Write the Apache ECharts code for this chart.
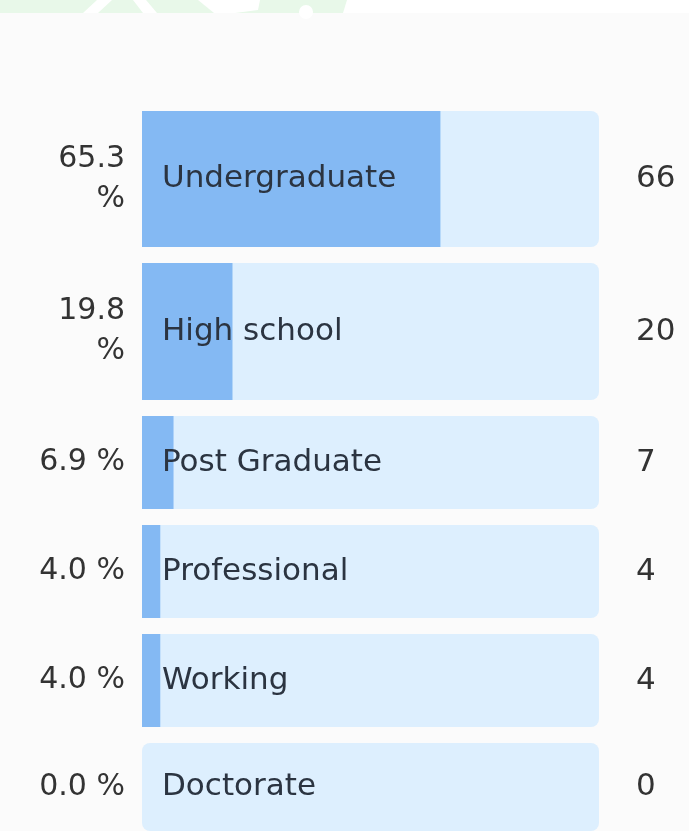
<!DOCTYPE html>
<html>
<head>
<meta charset="utf-8">
<script src="https://cdn.jsdelivr.net/npm/echarts@6/dist/echarts.min.js"></script>
<style>
html,body{margin:0;padding:0;background:#fbfbfb;}
#c{width:689px;height:831px;}
</style>
</head>
<body>
<div id="c"></div>
<script>
const categories = ['Undergraduate', 'High school', 'Post Graduate', 'Professional', 'Working', 'Doctorate'];
const percents = [65.3, 19.8, 6.9, 4.0, 4.0, 0.0];
const counts = [66, 20, 7, 4, 4, 0];

// layout (row positions in px)
const rowTops = [111, 263, 416, 525, 634, 743];
const rowHeights = [136, 137, 93, 93, 93, 93];

const FONT = "'DejaVu Sans', 'Open Sans', sans-serif";
const grids = [], xAxes = [], yAxes = [], series = [];
// percent label wraps onto two lines when it does not fit the left column
const pctText = (p) => p.toFixed(1) + (p >= 10 ? '\n%' : ' %');
categories.forEach((cat, i) => {
  grids.push({left: 142, right: 90, top: rowTops[i], height: rowHeights[i], containLabel: false});
  xAxes.push({gridIndex: i, type: 'value', min: 0, max: 100, show: false});
  const base = {gridIndex: i, type: 'category', data: [cat], axisLine: {show: false}, axisTick: {show: false}, splitLine: {show: false}};
  yAxes.push(Object.assign({}, base, {
    position: 'left', z: 10,
    axisLabel: {formatter: () => pctText(percents[i]), fontFamily: FONT, fontSize: 30, color: '#333',
      margin: 17, align: 'right', lineHeight: 40, padding: [4, 0, 0, 0]}
  }));
  yAxes.push(Object.assign({}, base, {
    position: 'left', z: 10,
    axisLabel: {inside: true, formatter: (v) => v, fontFamily: FONT, fontSize: 31, color: '#2b3441', margin: 20, padding: [4, 0, 0, 0]}
  }));
  yAxes.push(Object.assign({}, base, {
    position: 'right', z: 10,
    axisLabel: {formatter: () => String(counts[i]), fontFamily: FONT, fontSize: 31, color: '#333', margin: 37, align: 'left', padding: [4, 0, 0, 0]}
  }));
  series.push({
    type: 'bar', xAxisIndex: i, yAxisIndex: i * 3, data: [percents[i]], barWidth: '100%',
    showBackground: true, backgroundStyle: {color: '#ddeffe', borderRadius: 8},
    itemStyle: {color: '#84b9f3'}, silent: true, animation: false
  });
});

const chart = echarts.init(document.getElementById('c'));
chart.setOption({
  animation: false,
  backgroundColor: '#fbfbfb',
  graphic: [
    {type: 'rect', shape: {x: 0, y: 0, width: 348, height: 13}, style: {fill: '#e8f8e9'}},
    {type: 'polygon', shape: {points: [[83,13],[98,13],[112,0],[97,0]]}, style: {fill: '#ffffff'}},
    {type: 'polygon', shape: {points: [[143,13],[157,13],[146,0],[133,0]]}, style: {fill: '#ffffff'}},
    {type: 'polygon', shape: {points: [[198,0],[214,13],[235,13],[258,10],[260,0]]}, style: {fill: '#ffffff'}},
    {type: 'circle', shape: {cx: 306, cy: 12, r: 7}, style: {fill: '#ffffff'}},
    {type: 'polygon', shape: {points: [[343,13],[689,13],[689,0],[347,0]]}, style: {fill: '#ffffff'}}
  ],
  grid: grids, xAxis: xAxes, yAxis: yAxes, series: series
});
</script>
</body>
</html>
